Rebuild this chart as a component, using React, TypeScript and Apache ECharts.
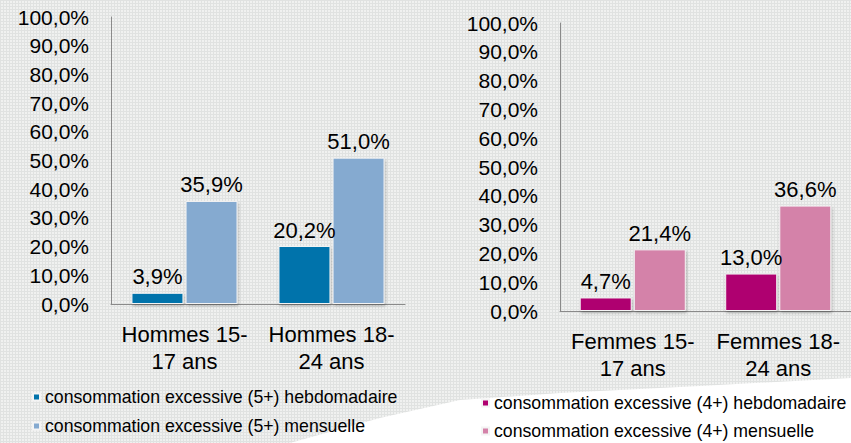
import React, { useEffect, useRef } from "react";
import * as echarts from "echarts";

const categoriesHommes = ["Hommes 15-\n17 ans", "Hommes 18-\n24 ans"];
const categoriesFemmes = ["Femmes 15-\n17 ans", "Femmes 18-\n24 ans"];
const hommesHebdo = [3.9, 20.2];
const hommesMensuel = [35.9, 51.0];
const femmesHebdo = [4.7, 13.0];
const femmesMensuel = [21.4, 36.6];
const seriesNames = [
  "consommation excessive (5+) hebdomadaire",
  "consommation excessive (5+) mensuelle",
  "consommation excessive (4+) hebdomadaire",
  "consommation excessive (4+) mensuelle",
];
const colors = ["#0173ab", "#85aad0", "#af006f", "#d482a9"];

const FONT = "'Liberation Sans', Arial, sans-serif";
const fmt = (v: number) => v.toFixed(1).replace(".", ",") + "%";

export default function App() {
  const ref = useRef<HTMLDivElement>(null);
  useEffect(() => {
    if (!ref.current) return;
    const chart = echarts.init(ref.current, undefined, { renderer: "svg" });
    const yAxisBase = {
      type: "value" as const,
      min: 0,
      max: 100,
      interval: 10,
      axisLine: { show: true, lineStyle: { color: "#8a8a8a", width: 1 } },
      axisTick: { show: false },
      splitLine: { show: false },
      axisLabel: {
        formatter: (v: number) => fmt(v),
        fontSize: 21,
        color: "#000",
        fontFamily: FONT,
        margin: 22,
        padding: [3, 0, 0, 0],
      },
    };
    const xAxisBase = {
      type: "category" as const,
      axisLine: { show: true, lineStyle: { color: "#8a8a8a", width: 1 } },
      axisTick: { show: false },
      axisLabel: {
        fontSize: 22,
        color: "#000",
        fontFamily: FONT,
        lineHeight: 27,
        margin: 17,
        interval: 0,
      },
    };
    const barBase = (i: number) => ({
      type: "bar" as const,
      name: seriesNames[i],
      barWidth: 52,
      barGap: "4%",
      itemStyle: {
        color: colors[i],
        borderColor: "#f4f4f4",
        borderWidth: 1,
        shadowBlur: 3,
        shadowColor: "rgba(0,0,0,0.25)",
        shadowOffsetX: 1,
        shadowOffsetY: 2,
      },
      label: {
        show: true,
        position: "top" as const,
        distance: 5,
        fontSize: 22,
        color: "#000",
        fontFamily: FONT,
        formatter: (p: any) => fmt(p.value),
      },
    });
    const legendBase = {
      orient: "vertical" as const,
      itemWidth: 7,
      itemHeight: 7,
      icon: "rect",
      padding: 0,
      height: 80,
      textStyle: { fontSize: 17.7, color: "#000", fontFamily: FONT, lineHeight: 17 },
      selectedMode: false,
    };
    chart.setOption({
      animation: false,
      backgroundColor: "transparent",
      graphic: [
        {
          type: "polygon",
          z: -10,
          silent: true,
          shape: {
            points: [
              [290, 443],
              [380, 418],
              [460, 400],
              [560, 393],
              [700, 386],
              [851, 378],
              [851, 443],
            ],
          },
          style: { fill: "#ffffff" },
        },
      ],
      grid: [
        { left: 111, top: 17, width: 294, height: 287 },
        { left: 560, top: 23, width: 294, height: 288 },
      ],
      xAxis: [
        { ...xAxisBase, gridIndex: 0, data: categoriesHommes },
        { ...xAxisBase, gridIndex: 1, data: categoriesFemmes },
      ],
      yAxis: [
        { ...yAxisBase, gridIndex: 0 },
        { ...yAxisBase, gridIndex: 1 },
      ],
      legend: [
        { ...legendBase, left: 32, top: 388, itemGap: 11, data: [seriesNames[0], seriesNames[1]] },
        { ...legendBase, left: 481, top: 394, itemGap: 10, data: [seriesNames[2], seriesNames[3]] },
      ],
      series: [
        { ...barBase(0), xAxisIndex: 0, yAxisIndex: 0, data: hommesHebdo },
        { ...barBase(1), xAxisIndex: 0, yAxisIndex: 0, data: hommesMensuel },
        { ...barBase(2), xAxisIndex: 1, yAxisIndex: 1, data: femmesHebdo },
        { ...barBase(3), xAxisIndex: 1, yAxisIndex: 1, data: femmesMensuel },
      ],
    });
    return () => chart.dispose();
  }, []);
  return (
    <div
      ref={ref}
      style={{
        position: "absolute",
        left: 0,
        top: 0,
        width: 851,
        height: 443,
        backgroundColor: "#f0f1f0",
        backgroundImage:
          "linear-gradient(#e0e2e1 1px, transparent 1px), linear-gradient(90deg, #e0e2e1 1px, transparent 1px)",
        backgroundSize: "3px 3px",
      }}
    />
  );
}
